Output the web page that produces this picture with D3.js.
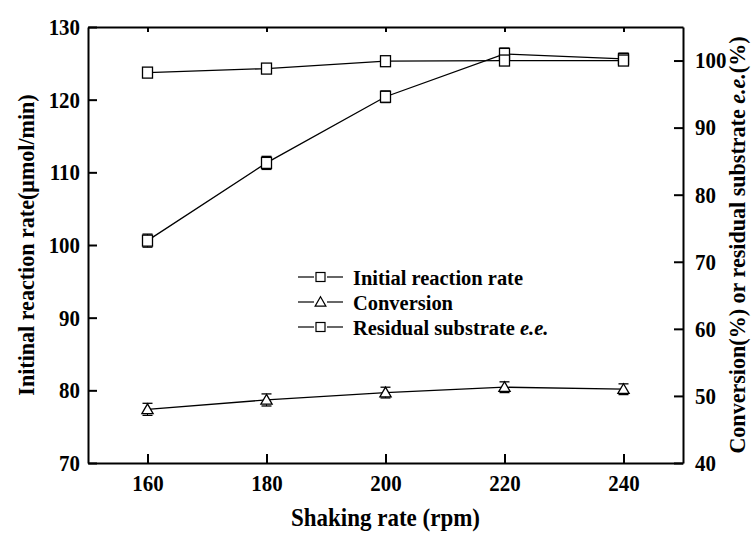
<!DOCTYPE html>
<html>
<head>
<meta charset="utf-8">
<script src="https://cdn.jsdelivr.net/npm/d3@7"></script>
<style>
  body { margin: 0; background: #fff; }
  text { font-family: "Liberation Serif", "Times New Roman", Times, serif; font-weight: bold; fill: #000; }
  .axis path, .axis line { stroke: #000; stroke-width: 2; }
  .axis text { font-size: 23px; }
</style>
</head>
<body>
<div id="chart"></div>
<script>
const shakingRate = [160, 180, 200, 220, 240];
const initialRate = [100.6, 111.3, 120.4, 126.3, 125.6];
const initialRateErr = [0.9, 0.9, 0.8, 0.8, 0.8];
const conversion = [48.0, 49.4, 50.5, 51.3, 51.0];
const conversionErr = [0.9, 0.9, 0.8, 0.8, 0.8];
const residualEe = [98.2, 98.8, 99.9, 100.0, 100.0];
const residualEeErr = [0.5, 0.5, 0.5, 0.5, 0.5];

const xTicks = [160, 180, 200, 220, 240];
const leftTicks = [70, 80, 90, 100, 110, 120, 130];
const rightTicks = [40, 50, 60, 70, 80, 90, 100];

const width = 751, height = 534;
const plot = { left: 88, right: 683, top: 27, bottom: 463 };
const squeeze = 0.91; // the reference text is a little narrow for its height

const svg = d3.select('#chart').append('svg')
    .attr('width', width)
    .attr('height', height);

const x = d3.scaleLinear().domain([150, 250]).range([plot.left, plot.right]),
      yLeft = d3.scaleLinear().domain([70, 130]).range([plot.bottom, plot.top]),
      yRight = d3.scaleLinear().domain([40, 105]).range([plot.bottom, plot.top]);

// axes, ticks pointing inward
svg.append('g')
    .attr('class', 'axis')
    .attr('transform', 'translate(0,' + plot.bottom + ')')
    .call(d3.axisBottom(x).tickValues(xTicks).tickSizeInner(-9).tickSizeOuter(0).tickPadding(12));

svg.append('g')
    .attr('class', 'axis')
    .attr('transform', 'translate(0,' + plot.top + ')')
    .call(d3.axisTop(x).tickValues(xTicks).tickSizeInner(-5).tickSizeOuter(0).tickFormat(''));

svg.append('g')
    .attr('class', 'axis')
    .attr('transform', 'translate(' + plot.left + ',0)')
    .call(d3.axisLeft(yLeft).tickValues(leftTicks).tickSizeInner(-9).tickSizeOuter(0).tickPadding(8 / squeeze));

svg.append('g')
    .attr('class', 'axis')
    .attr('transform', 'translate(' + plot.right + ',0)')
    .call(d3.axisRight(yRight).tickValues(rightTicks).tickSizeInner(-9).tickSizeOuter(0).tickPadding(12 / squeeze));

svg.selectAll('.axis text').attr('transform', 'scale(' + squeeze + ',1)');

// series
const series = [
  { values: initialRate, err: initialRateErr, y: yLeft, shape: 'square' },
  { values: conversion, err: conversionErr, y: yRight, shape: 'triangle' },
  { values: residualEe, err: residualEeErr, y: yRight, shape: 'square' }
];

const line = d3.line();

series.forEach(s => {
  const pts = shakingRate.map((r, i) => ({ x: x(r), y: s.y(s.values[i]), lo: s.y(s.values[i] - s.err[i]), hi: s.y(s.values[i] + s.err[i]) }));
  const g = svg.append('g');

  g.append('path')
      .attr('d', line(pts.map(p => [p.x, p.y])))
      .attr('fill', 'none')
      .attr('stroke', '#000')
      .attr('stroke-width', 1.3);

  const eb = g.selectAll('.eb').data(pts).enter().append('g').attr('class', 'eb');
  eb.append('line')
      .attr('x1', d => d.x).attr('x2', d => d.x)
      .attr('y1', d => d.lo).attr('y2', d => d.hi)
      .attr('stroke', '#000').attr('stroke-width', 1);
  eb.append('line')
      .attr('x1', d => d.x - 5).attr('x2', d => d.x + 5)
      .attr('y1', d => d.hi).attr('y2', d => d.hi)
      .attr('stroke', '#000').attr('stroke-width', 1.3);
  eb.append('line')
      .attr('x1', d => d.x - 5).attr('x2', d => d.x + 5)
      .attr('y1', d => d.lo).attr('y2', d => d.lo)
      .attr('stroke', '#000').attr('stroke-width', 1.3);

  if (s.shape === 'square') {
    g.selectAll('rect').data(pts).enter().append('rect')
        .attr('x', d => d.x - 5).attr('y', d => d.y - 5.5)
        .attr('width', 10).attr('height', 11)
        .attr('fill', '#fff').attr('stroke', '#000').attr('stroke-width', 1.3);
  } else {
    g.selectAll('path.sym').data(pts).enter().append('path')
        .attr('class', 'sym')
        .attr('transform', d => 'translate(' + d.x + ',' + (d.y + 1) + ')')
        .attr('d', d3.symbol(d3.symbolTriangle, 55))
        .attr('fill', '#fff').attr('stroke', '#000').attr('stroke-width', 1.3);
  }
});

// legend
const legendItems = [
  { label: 'Initial reaction rate', italic: '', shape: 'square', y: 277 },
  { label: 'Conversion', italic: '', shape: 'triangle', y: 302 },
  { label: 'Residual substrate ', italic: 'e.e.', shape: 'square', y: 327 }
];
const legend = svg.append('g');
legendItems.forEach(item => {
  const lg = legend.append('g').attr('transform', 'translate(298,' + item.y + ')');
  lg.append('line').attr('x1', 0).attr('x2', 16).attr('y1', 0).attr('y2', 0)
      .attr('stroke', '#000').attr('stroke-width', 1.2);
  lg.append('line').attr('x1', 29).attr('x2', 45).attr('y1', 0).attr('y2', 0)
      .attr('stroke', '#000').attr('stroke-width', 1.2);
  if (item.shape === 'square') {
    lg.append('rect').attr('x', 18).attr('y', -4.5).attr('width', 9).attr('height', 9)
        .attr('fill', '#fff').attr('stroke', '#000').attr('stroke-width', 1.2);
  } else {
    lg.append('path').attr('transform', 'translate(22.5,1)')
        .attr('d', d3.symbol(d3.symbolTriangle, 50))
        .attr('fill', '#fff').attr('stroke', '#000').attr('stroke-width', 1.2);
  }
  const t = lg.append('text').attr('transform', 'translate(55,0) scale(0.93,1)')
      .attr('dy', '0.35em').style('font-size', '22px');
  t.append('tspan').text(item.label);
  if (item.italic) t.append('tspan').style('font-style', 'italic').text(item.italic);
});

// axis titles
svg.append('text')
    .attr('transform', 'translate(' + ((plot.left + plot.right) / 2) + ',526) scale(0.92,1)')
    .attr('text-anchor', 'middle')
    .style('font-size', '25px')
    .text('Shaking rate (rpm)');

svg.append('text')
    .attr('transform', 'translate(26,' + ((plot.top + plot.bottom) / 2) + ') rotate(-90) scale(0.92,1)')
    .attr('text-anchor', 'middle')
    .attr('dy', '0.35em')
    .style('font-size', '24px')
    .text('Initinal reaction rate(μmol/min)');

const rt = svg.append('text')
    .attr('transform', 'translate(737,' + ((plot.top + plot.bottom) / 2) + ') rotate(-90) scale(0.92,1)')
    .attr('text-anchor', 'middle')
    .attr('dy', '0.35em')
    .style('font-size', '24px');
rt.append('tspan').text('Conversion(%) or residual substrate ');
rt.append('tspan').style('font-style', 'italic').text('e.e.');
rt.append('tspan').text('(%)');
</script>
</body>
</html>
